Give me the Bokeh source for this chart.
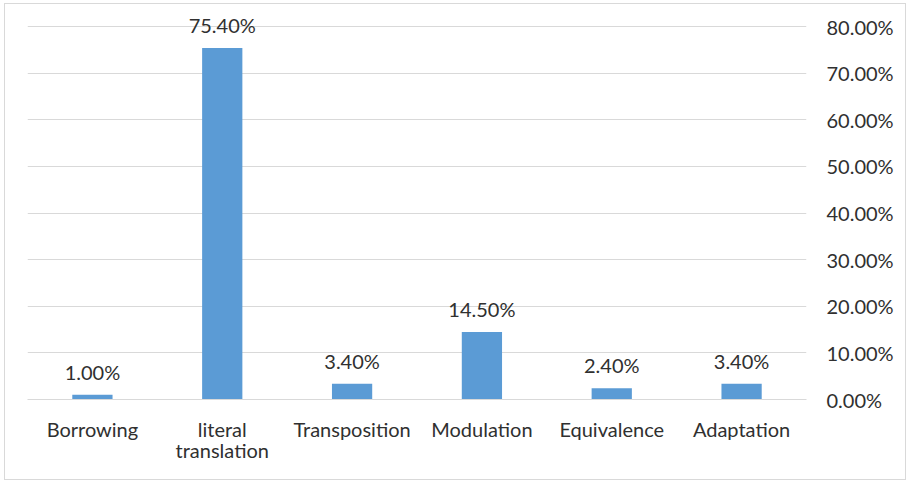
from bokeh.plotting import figure
from bokeh.models import ColumnDataSource, Range1d, FactorRange, FixedTicker, PrintfTickFormatter, LabelSet
from bokeh.core.properties import value
from bokeh.embed import file_html
from bokeh.resources import INLINE

categories = ["Borrowing", "literal\ntranslation", "Transposition", "Modulation", "Equivalence", "Adaptation"]
values = [1.00, 75.40, 3.40, 14.50, 2.40, 3.40]
y_ticks = [0, 10, 20, 30, 40, 50, 60, 70, 80]

FONT = "Lato"
TEXT = "#303030"
BAR = "#5B9BD5"
GRID = "#d9d9d9"

src = ColumnDataSource(dict(cat=categories, val=values,
                            lab=[f"{v:.2f}%" for v in values]))

p = figure(width=902, height=477, x_range=FactorRange(*categories, range_padding=0),
           y_range=Range1d(0, 84.1), y_axis_location="right",
           output_backend="svg", toolbar_location=None,
           min_border_left=22, min_border_top=3, min_border_right=101, min_border_bottom=82)
p.margin = (3, 3, 2, 4)
p.styles = {"border": f"1px solid {GRID}", "box-sizing": "border-box"}
p.outline_line_color = None
p.background_fill_color = "white"
p.border_fill_color = "white"

p.vbar(x="cat", top="val", width=0.31, source=src, fill_color=BAR, line_color=None)

labels = LabelSet(x="cat", y="val", text="lab", source=src, text_align="center",
                  text_baseline="alphabetic", y_offset=15, text_font=value(FONT),
                  text_font_size=value("20px"), text_color=TEXT)
p.add_layout(labels)

p.xgrid.grid_line_color = None
p.ygrid.grid_line_color = GRID
p.ygrid.grid_line_width = 1
p.ygrid.ticker = FixedTicker(ticks=y_ticks)

ya = p.yaxis[0]
ya.ticker = FixedTicker(ticks=y_ticks)
ya.formatter = PrintfTickFormatter(format="%.2f%%")
ya.axis_line_color = None
ya.major_tick_line_color = None
ya.minor_tick_line_color = None
ya.major_label_standoff = 14
ya.major_label_text_font = FONT
ya.major_label_text_font_size = "20px"
ya.major_label_text_color = TEXT

xa = p.xaxis[0]
xa.axis_line_color = GRID
xa.axis_line_width = 1
xa.major_tick_line_color = None
xa.minor_tick_line_color = None
xa.major_label_standoff = 11
xa.major_label_text_font = FONT
xa.major_label_text_font_size = "20px"
xa.major_label_text_line_height = 0.9
xa.major_label_text_color = TEXT

open("out.html", "w").write(file_html(p, INLINE))
